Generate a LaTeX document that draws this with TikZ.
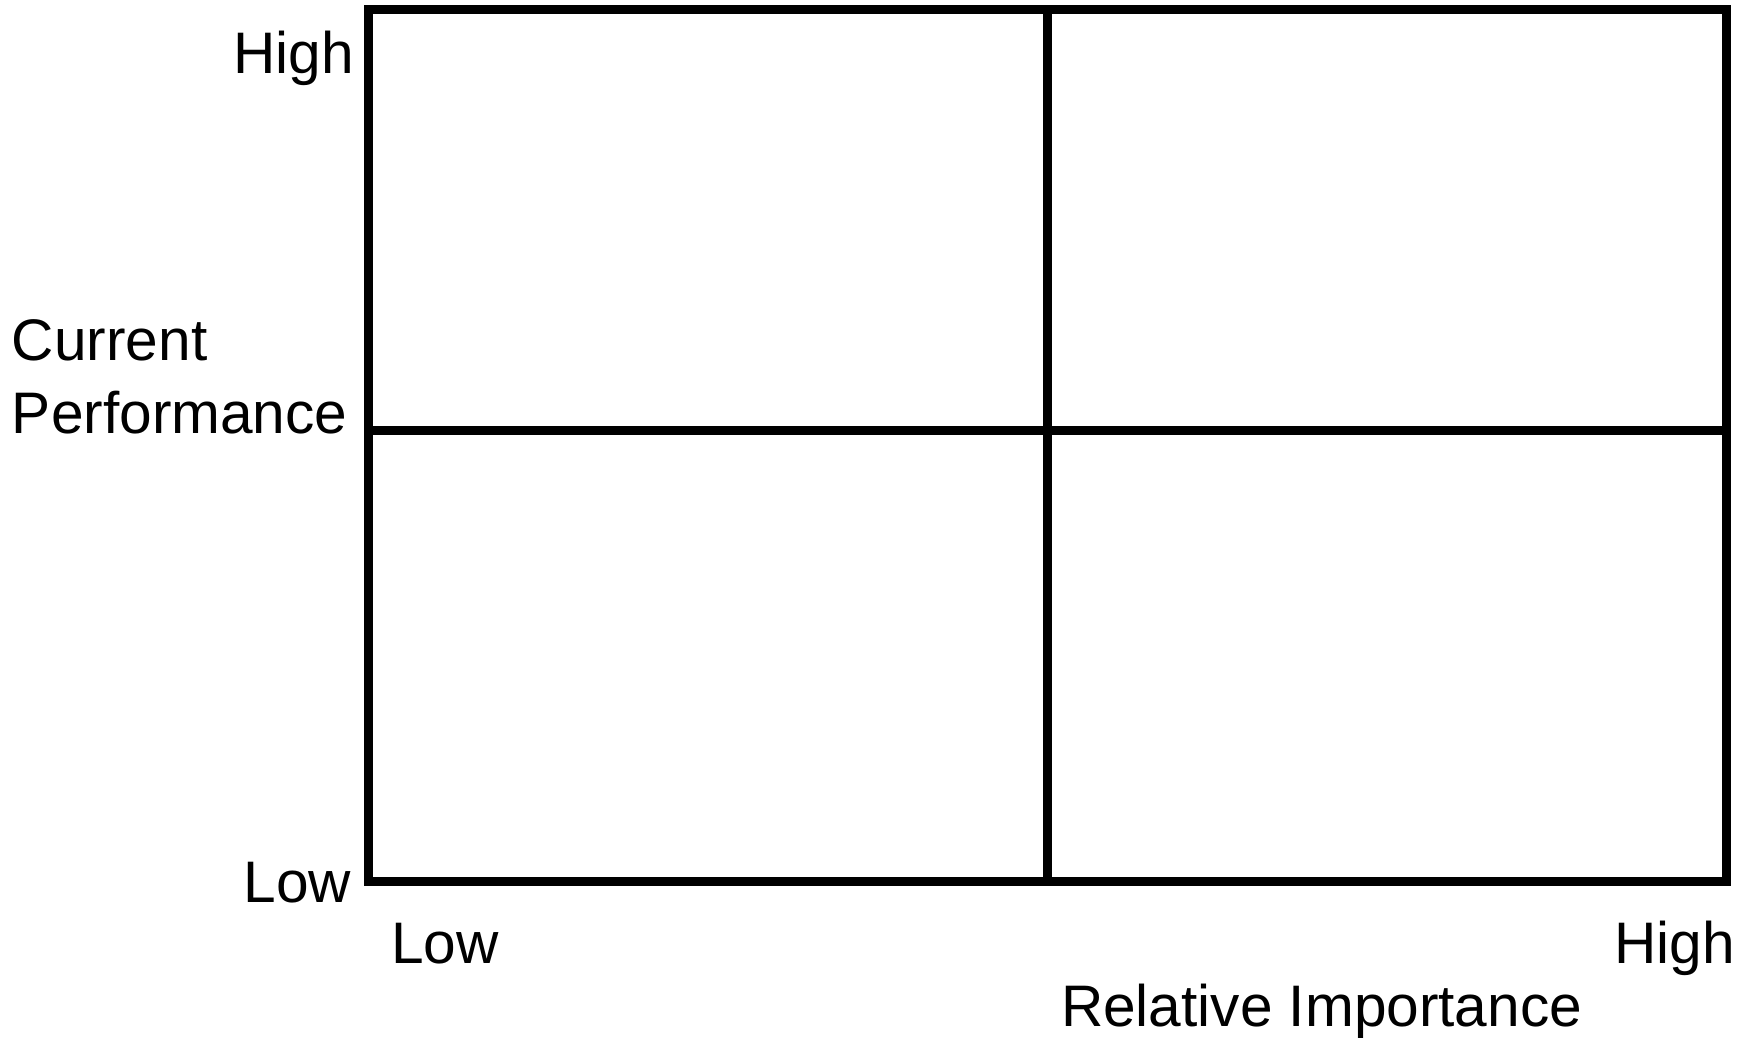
\documentclass[tikz,border=0pt]{standalone}
\usepackage{fontspec}
\setmainfont{Liberation Sans}
\begin{document}
\begin{tikzpicture}[x=1pt,y=1pt,
  lbl/.style={inner sep=0pt,outer sep=0pt,font=\fontsize{58.6}{62}\selectfont},
  gridline/.style={line width=9pt,line join=miter,line cap=rect}]
\useasboundingbox (0,0) rectangle (1745,-1037);
\coordinate (tl) at (368.5,-9.5);
\coordinate (br) at (1726,-881.5);
\coordinate (mt) at (1047.5,-9.5);
\coordinate (mb) at (1047.5,-881.5);
\coordinate (ml) at (368.5,-430.5);
\coordinate (mr) at (1726,-430.5);
\draw[gridline] (tl) rectangle (br);
\draw[gridline] (mt) -- (mb);
\draw[gridline] (ml) -- (mr);
\node[lbl,anchor=base east] (yhigh) at (354,-73) {High};
\node[lbl,anchor=base west] (ycur) at (12,-360) {Current};
\node[lbl,anchor=base west] (yperf) at (12,-433) {Performance};
\node[lbl,anchor=base east] (ylow) at (351,-902) {Low};
\node[lbl,anchor=base west] (xlow) at (391,-963) {Low};
\node[lbl,anchor=base east] (xhigh) at (1735,-963) {High};
\node[lbl,anchor=base west] (xlab) at (1061,-1026) {Relative Importance};
\end{tikzpicture}
\end{document}
